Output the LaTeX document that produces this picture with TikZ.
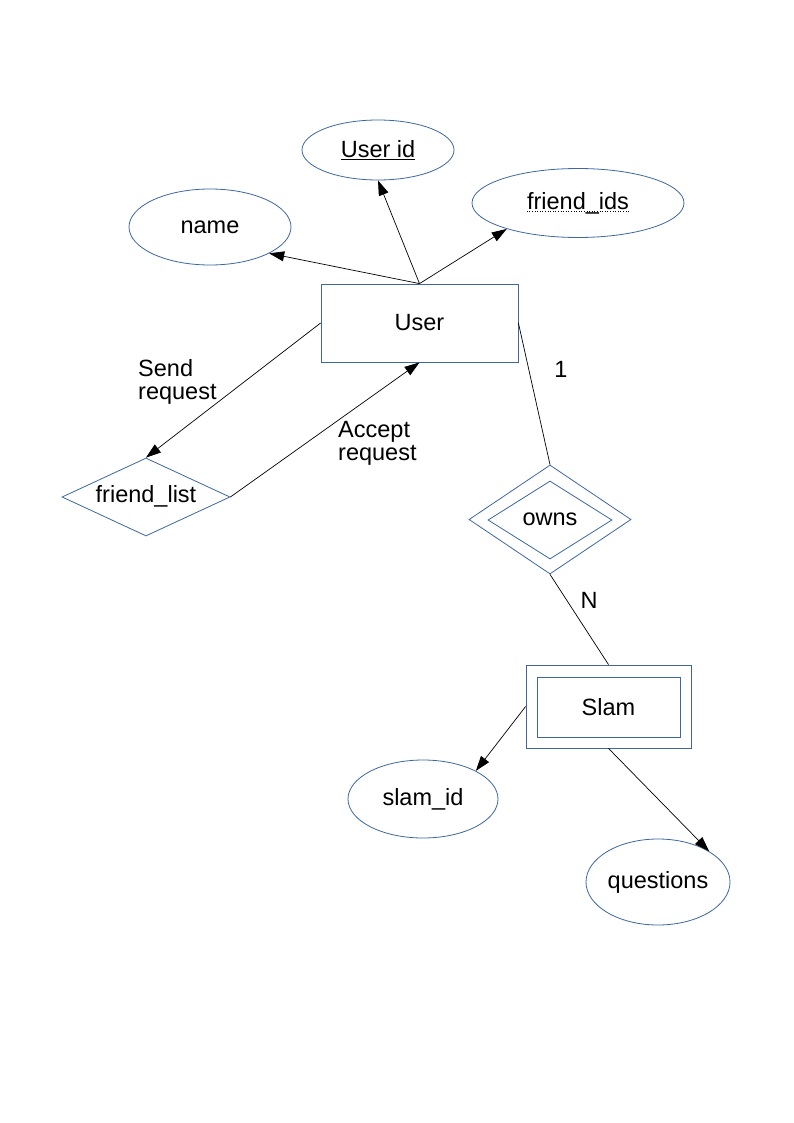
\documentclass[tikz,border=0pt]{standalone}
\usepackage{fontspec}
\setmainfont{Liberation Sans}
\usetikzlibrary{arrows.meta,shapes.geometric}
\definecolor{shapeblue}{RGB}{62,103,160}
\tikzset{
  txt/.style={inner sep=0pt, font=\fontsize{23.5}{23}\selectfont},
  er/.style={draw=shapeblue, line width=0.8pt, inner sep=0pt, txt},
  attr/.style={er, ellipse},
  entity/.style={er, rectangle},
  rel/.style={er, diamond},
  conn/.style={line width=0.7pt, black},
  arr/.style={conn, -{Triangle[length=15pt,width=10pt]}},
  lbl/.style={txt}
}
\begin{document}
\begin{tikzpicture}[x=1pt,y=-1pt]
  \useasboundingbox[fill=white] (0,0) rectangle (794,1123);

  % attributes of User
  \node[attr, minimum width=152pt, minimum height=60pt] (uid) at (378,150) {\underline{User id}};
  \node[attr, minimum width=162pt, minimum height=76pt] (name) at (210,227) {name};
  \node[attr, minimum width=212pt, minimum height=69pt] (fids) at (578,203) {};
  \node[lbl] (fidstxt) at (578,203) {friend\_ids};
  \draw[line width=0.6pt, dotted] ([yshift=-2.5pt]fidstxt.base west) -- ([yshift=-2.5pt]fidstxt.base east);

  % entity User
  \node[entity, minimum width=197pt, minimum height=78pt] (user) at (419.5,323) {User};

  % relationship friend_list
  \node[rel, minimum width=168pt, minimum height=78pt] (fl) at (146,497) {};
  \node[lbl] (fltxt) at (146,496) {friend\_list};

  % identifying relationship owns
  \node[rel, minimum width=162pt, minimum height=109pt] (owns) at (550,519.5) {};
  \node[rel, minimum width=124pt, minimum height=78pt] (ownsin) at (550,520) {};
  \node[lbl] (ownstxt) at (550,519) {owns};

  % weak entity Slam
  \node[entity, minimum width=165pt, minimum height=83pt] (slam) at (608.5,706.5) {};
  \node[entity, minimum width=143pt, minimum height=60pt] (slamin) at (608.5,707) {Slam};

  % attributes of Slam
  \node[attr, minimum width=150pt, minimum height=78pt] (sid) at (423,799) {slam\_id};
  \node[attr, minimum width=144pt, minimum height=86pt] (qs) at (658,882) {questions};

  % connectors
  \draw[arr] (user.north) -- (name.-24);
  \draw[arr] (user.north) -- (uid.south);
  \draw[arr] (user.north) -- (fids.-160);
  \draw[arr] (user.west) -- (fl.north);
  \draw[arr] (fl.east) -- (user.south);
  \draw[conn] (user.east) -- (owns.north);
  \draw[conn] (owns.south) -- (slam.north);
  \draw[arr] (slam.west) -- (sid.28);
  \draw[arr] (slam.south) -- (qs.31);

  % labels
  \node[lbl, align=left, anchor=west] (send) at (138,382) {Send\\request};
  \node[lbl, align=left, anchor=west] (accept) at (338,443.5) {Accept\\request};
  \node[lbl] (one) at (561,369) {1};
  \node[lbl] (many) at (589,600) {N};
\end{tikzpicture}
\end{document}
